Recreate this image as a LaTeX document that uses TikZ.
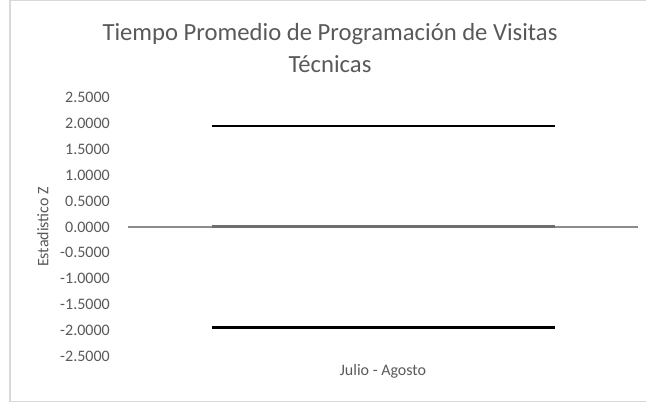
\documentclass[tikz,border=0pt]{standalone}
\usepackage{fontspec}
\setmainfont{Carlito}
\usepackage{xcolor}
\definecolor{txtgray}{HTML}{595959}
\definecolor{framegray}{HTML}{D9D9D9}
\definecolor{axisgray}{HTML}{8C8C8C}
\definecolor{meangray}{HTML}{6E6E6E}

\begin{document}
\begin{tikzpicture}[
    x=0.75pt, y=-0.75pt, % pixel units
    ticklabel/.style={anchor=east, inner sep=0pt, text=txtgray, font=\fontsize{12}{14}\selectfont},
    axistitle/.style={inner sep=0pt, text=txtgray, font=\fontsize{12}{14}\selectfont},
    charttitle/.style={inner sep=0pt, align=center, text=txtgray, font=\fontsize{18.5}{24}\selectfont},
    limitline/.style={draw=black, line width=2.2pt},
    meanline/.style={draw=meangray, line width=2.2pt}
]
    % Canvas and chart frame
    \useasboundingbox (0,0) rectangle (646,406);
    \draw[framegray, line width=1.2pt] (10,402) -- (10,0.6) -- (650,0.6);
    \draw[framegray, line width=1.2pt] (10,401.5) -- (650,401.5);

    % Title
    \node (title) [charttitle] at (330,48.5) {Tiempo Promedio de Programación de Visitas\\Técnicas};

    % Tick labels
    \foreach \v/\lbl in {2.5/2.5000, 2/2.0000, 1.5/1.5000, 1/1.0000, 0.5/0.5000, 0/0.0000,
                         -0.5/-0.5000, -1/-1.0000, -1.5/-1.5000, -2/-2.0000, -2.5/-2.5000}
        \node [ticklabel] at (110, 227-51.7*\v) {\lbl};

    % Axis titles
    \node (ytitle) [axistitle, rotate=90] at (43,227) {Estadistico Z};
    \node (xtitle) [axistitle] at (383,371) {Julio - Agosto};

    % Category axis
    \coordinate (axisL) at (128,227);
    \coordinate (axisR) at (638,227);
    \draw[axisgray, line width=0.9pt] (axisL) -- (axisR);

    % Series
    \coordinate (upL) at (212,126);
    \coordinate (upR) at (555,126);
    \coordinate (midL) at (212,226.5);
    \coordinate (midR) at (555,226.5);
    \coordinate (loL) at (212,327.5);
    \coordinate (loR) at (555,327.5);
    \path [limitline] (upL) -- (upR);
    \path [meanline] (midL) -- (midR);
    \path [limitline] (loL) -- (loR);

\end{tikzpicture}
\end{document}
